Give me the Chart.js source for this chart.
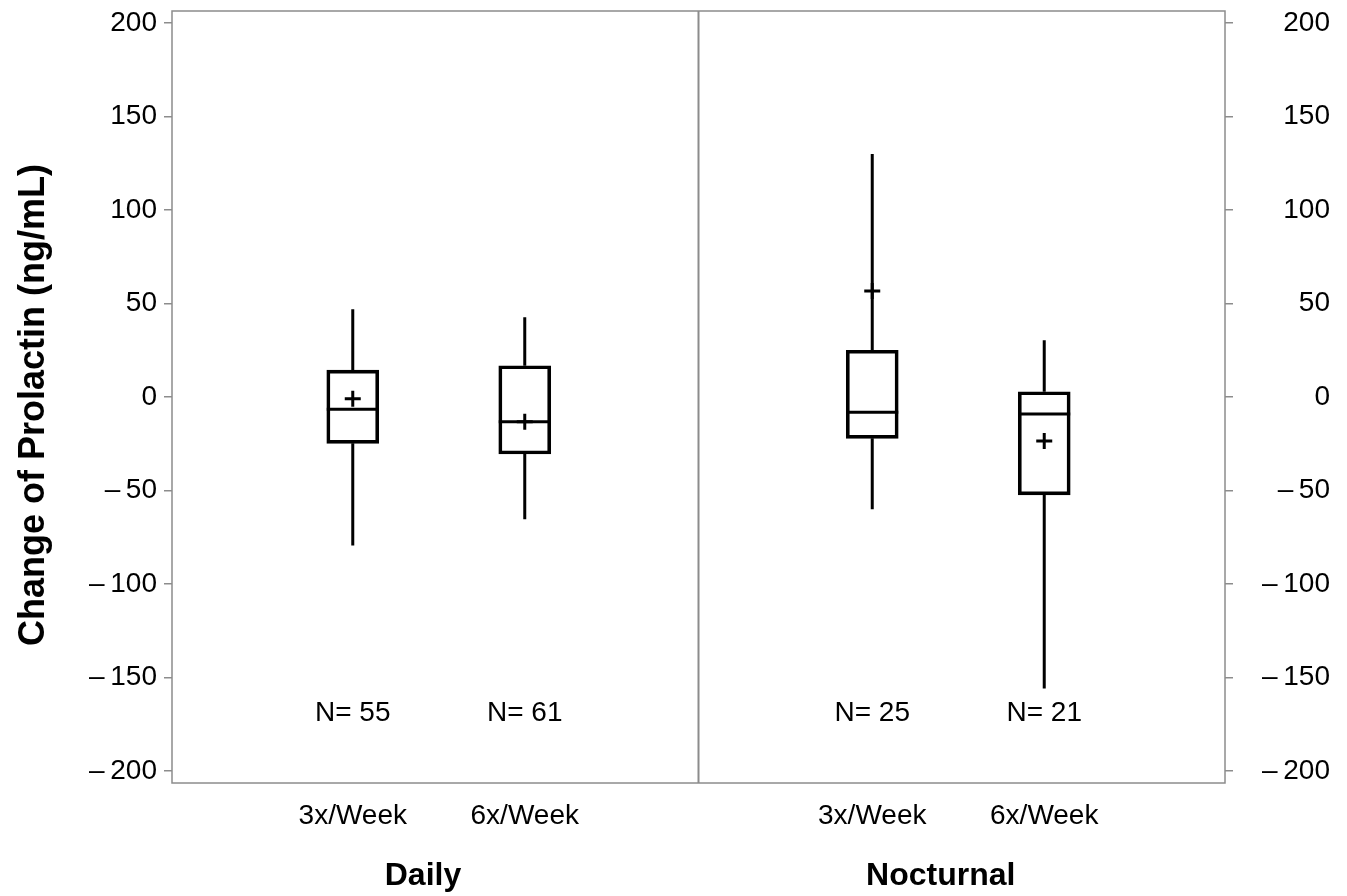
<!DOCTYPE html>
<html lang="en">
<head>
    <meta charset="UTF-8">
    <title>Change of Prolactin</title>
    <script src="https://cdn.jsdelivr.net/npm/chart.js"></script>
    <style>
        html, body {
            margin: 0;
            padding: 0;
            background: #fff;
        }
        #wrap {
            width: 1347px;
            height: 896px;
        }
    </style>
</head>
<body>
<div id="wrap"><canvas id="boxChart" width="1347" height="896"></canvas></div>

<script>
// values
const categories = ['3x/Week', '6x/Week', '3x/Week', '6x/Week'];
const positions = [1.03, 2.01, 3.99, 4.97];
const groups = ['Daily', 'Nocturnal'];
const groupPositions = [1.43, 4.38];
const whiskerLow = [-79.5, -65.4, -60, -156];
const q1 = [-24.8, -30.5, -22.1, -52.4];
const medians = [-6.6, -13.2, -8.2, -9.1];
const q3 = [14.4, 16.7, 25, 2.8];
const whiskerHigh = [47, 42.6, 130, 30.3];
const means = [-1, -13.2, 56.7, -23.5];
const counts = [55, 61, 25, 21];
const yTicks = [-200, -150, -100, -50, 0, 50, 100, 150, 200];
const yTitle = 'Change of Prolactin (ng/mL)';

const FONT = '"Liberation Sans", Arial, Helvetica, sans-serif';
const GRAY = '#8c8c8c';

// whiskers as one broken line
const whiskerPts = [];
positions.forEach(function (x, i) {
    whiskerPts.push({x: x, y: q3[i]}, {x: x, y: whiskerHigh[i]}, {x: x, y: null});
    whiskerPts.push({x: x, y: whiskerLow[i]}, {x: x, y: q1[i]}, {x: x, y: null});
});

function fmtTick(v) {
    return v < 0 ? '\u2013\u2009' + Math.abs(v) : String(v);
}

function setTicks(axis) {
    axis.ticks = yTicks.map(v => ({value: v}));
}

const framePlugin = {
    id: 'framePlugin',
    beforeDatasetsDraw(chart) {
        const {ctx, chartArea: a, scales} = chart;
        ctx.save();
        ctx.strokeStyle = GRAY;
        ctx.lineWidth = 1.5;
        ctx.strokeRect(a.left, a.top, a.right - a.left, a.bottom - a.top);
        const xd = scales.x.getPixelForValue(3);
        ctx.lineWidth = 2;
        ctx.beginPath();
        ctx.moveTo(xd, a.top);
        ctx.lineTo(xd, a.bottom);
        ctx.stroke();
        ctx.restore();
    },
    afterDraw(chart) {
        const {ctx, scales} = chart;
        ctx.save();
        ctx.fillStyle = '#000';
        ctx.textAlign = 'center';
        ctx.textBaseline = 'middle';
        ctx.font = '28px ' + FONT;
        counts.forEach(function (n, i) {
            ctx.fillText('N= ' + n, scales.x.getPixelForValue(positions[i]), scales.y.getPixelForValue(-169));
        });
        ctx.font = 'bold 32px ' + FONT;
        groups.forEach(function (g, i) {
            ctx.fillText(g, scales.x.getPixelForValue(groupPositions[i]), 876);
        });
        // y title, a little below the axis middle as in the original
        ctx.font = 'bold 36px ' + FONT;
        ctx.translate(34, 405);
        ctx.rotate(-Math.PI / 2);
        ctx.fillText(yTitle, 0, 0);
        ctx.restore();
    }
};

new Chart(document.getElementById('boxChart'), {
    data: {
        datasets: [
            {
                type: 'bar',
                data: positions.map((x, i) => ({x: x, y: [q1[i], q3[i]]})),
                backgroundColor: 'rgba(0,0,0,0)',
                borderColor: '#000',
                borderWidth: 3,
                borderSkipped: false,
                barThickness: 52,
                yAxisID: 'y'
            },
            {
                type: 'line',
                data: whiskerPts,
                borderColor: '#000',
                borderWidth: 3,
                pointRadius: 0,
                spanGaps: false,
                fill: false,
                yAxisID: 'y'
            },
            {
                type: 'scatter',
                data: positions.map((x, i) => ({x: x, y: medians[i]})),
                pointStyle: 'line',
                pointRadius: 26,
                borderColor: '#000',
                borderWidth: 3,
                yAxisID: 'y'
            },
            {
                type: 'scatter',
                data: positions.map((x, i) => ({x: x, y: means[i]})),
                pointStyle: 'cross',
                pointRadius: 8,
                borderColor: '#000',
                borderWidth: 3,
                yAxisID: 'y'
            }
        ]
    },
    options: {
        responsive: false,
        animation: false,
        events: [],
        layout: {autoPadding: false, padding: {top: 11, bottom: 63, left: 0, right: 17}},
        plugins: {
            legend: {display: false},
            tooltip: {enabled: false}
        },
        scales: {
            x: {
                type: 'linear',
                min: 0,
                max: 6,
                offset: false,
                grid: {display: false, drawTicks: false, offset: false},
                border: {display: false},
                afterBuildTicks: function (axis) {
                    axis.ticks = positions.map(v => ({value: v}));
                },
                afterFit: function (axis) {
                    axis.height = 50;
                    axis.paddingLeft = 0;
                    axis.paddingRight = 0;
                },
                ticks: {
                    autoSkip: false,
                    maxRotation: 0,
                    padding: 16,
                    color: '#000',
                    font: {family: FONT, size: 28},
                    callback: function (value, index) {
                        return categories[index];
                    }
                }
            },
            y: {
                type: 'linear',
                position: 'left',
                min: -206.5,
                max: 206.5,
                afterBuildTicks: setTicks,
                afterFit: function (axis) {
                    axis.width = 172;
                    axis.paddingTop = 0;
                    axis.paddingBottom = 0;
                },
                grid: {drawOnChartArea: false, drawTicks: true, tickLength: 8, color: GRAY, lineWidth: 1.5},
                border: {display: false},
                ticks: {
                    padding: 7,
                    color: '#000',
                    font: {family: FONT, size: 28},
                    callback: fmtTick
                }
            },
            y2: {
                type: 'linear',
                position: 'right',
                min: -206.5,
                max: 206.5,
                afterBuildTicks: setTicks,
                afterFit: function (axis) {
                    axis.width = 105;
                    axis.paddingTop = 0;
                    axis.paddingBottom = 0;
                },
                grid: {drawOnChartArea: false, drawTicks: true, tickLength: 8, color: GRAY, lineWidth: 1.5},
                border: {display: false},
                ticks: {
                    padding: 24,
                    crossAlign: 'far',
                    color: '#000',
                    font: {family: FONT, size: 28},
                    callback: fmtTick
                }
            }
        }
    },
    plugins: [framePlugin]
});
</script>
</body>
</html>
